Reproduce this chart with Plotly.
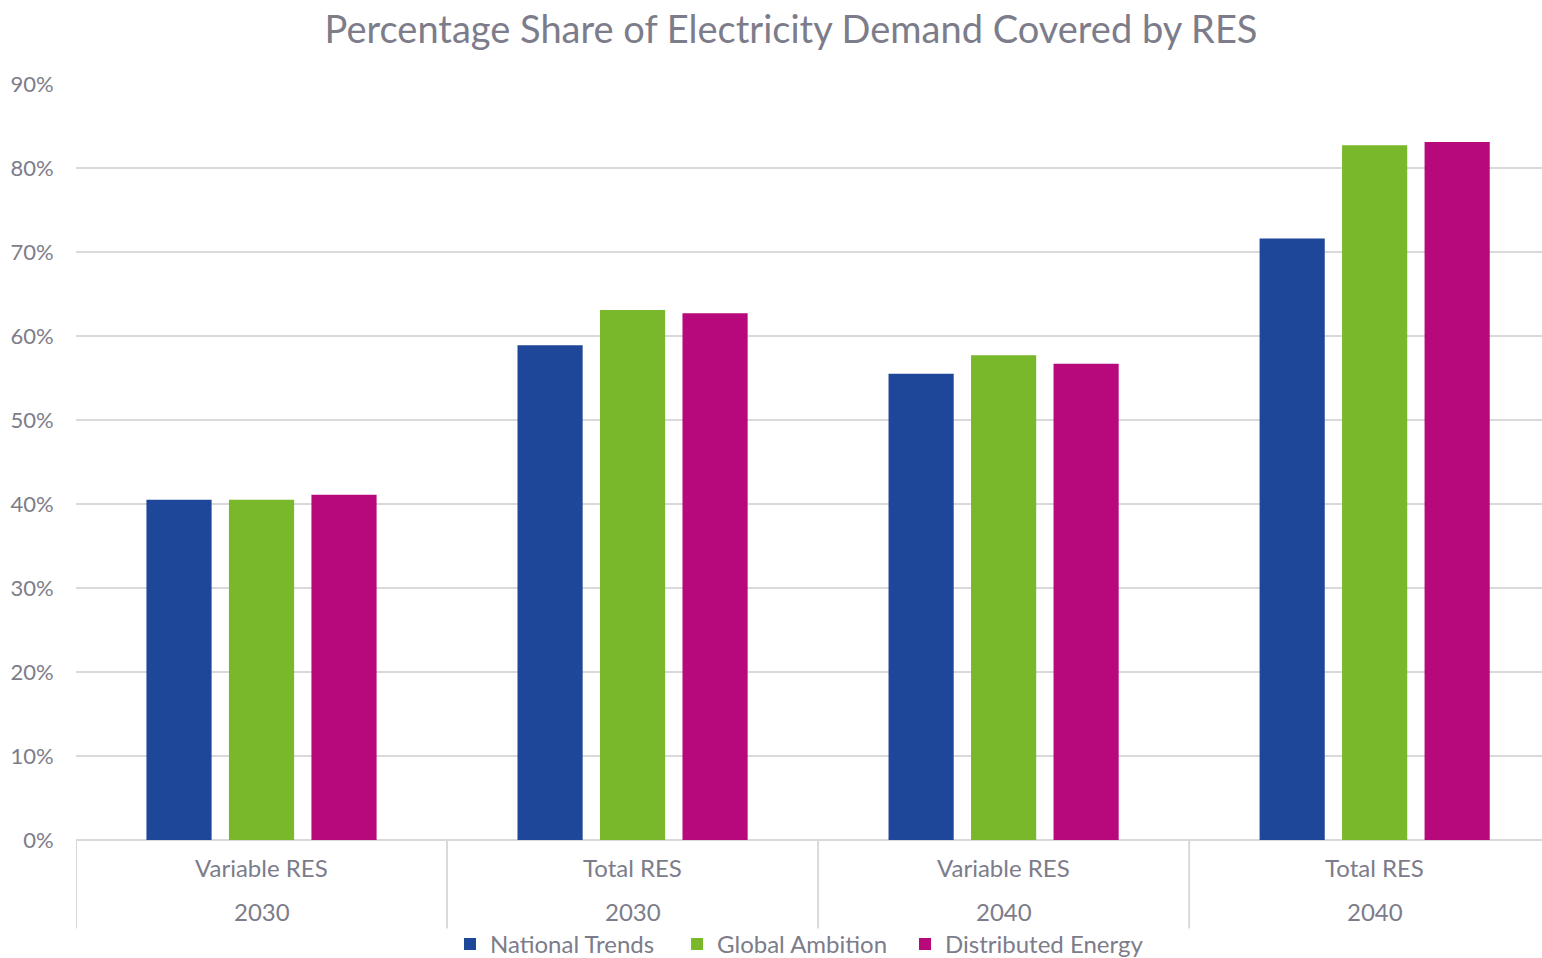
import plotly.graph_objects as go

# Scenario data: share of electricity demand covered by renewables
categories = ["Variable RES", "Total RES", "Variable RES", "Total RES"]
years = ["2030", "2030", "2040", "2040"]
national_trends = [0.405, 0.589, 0.555, 0.716]
global_ambition = [0.405, 0.631, 0.577, 0.827]
distributed_energy = [0.411, 0.627, 0.567, 0.831]
y_ticks = [0, 0.1, 0.2, 0.3, 0.4, 0.5, 0.6, 0.7, 0.8, 0.9]

FONT = "Lato"
TEXT = "#7c7c8a"
GRID = "#d9d9d9"

x_pos = list(range(len(categories)))

series = [
    ("National Trends", national_trends, "#1f4799", "legend", 0.2551),
    ("Global Ambition", global_ambition, "#78b82a", "legend2", 0.410),
    ("Distributed Energy", distributed_energy, "#b8097c", "legend3", 0.5655),
]

fig = go.Figure()
legend_layout = {}
for name, vals, color, leg, lx in series:
    fig.add_trace(go.Bar(
        x=x_pos, y=vals, name=name, legend=leg,
        marker=dict(color=color, line=dict(width=0)),
    ))
    legend_layout[leg] = dict(
        orientation="h", x=lx, xanchor="left", y=-0.138, yanchor="middle",
        font=dict(family=FONT, size=24, color=TEXT),
        itemwidth=30, bgcolor="rgba(0,0,0,0)",
    )

# Category labels (two rows) and dividers below the axis
annotations = []
for i, (c, yr) in enumerate(zip(categories, years)):
    annotations.append(dict(x=i, y=-0.036, xref="x", yref="paper", text=c,
                            showarrow=False, font=dict(family=FONT, size=24, color=TEXT),
                            xanchor="center", yanchor="middle"))
    annotations.append(dict(x=i, y=-0.094, xref="x", yref="paper", text=yr,
                            showarrow=False, font=dict(family=FONT, size=24, color=TEXT),
                            xanchor="center", yanchor="middle"))

shapes = []
for b in [-0.5, 0.5, 1.5, 2.5]:
    shapes.append(dict(type="line", xref="x", yref="paper", x0=b, x1=b,
                       y0=0, y1=-0.117, line=dict(color=GRID, width=2)))

fig.update_layout(
    width=1542, height=958,
    margin=dict(l=76, r=0, t=84, b=118, autoexpand=False),
    paper_bgcolor="white", plot_bgcolor="white",
    title=dict(text="Percentage Share of Electricity Demand Covered by RES",
               x=0.513, xanchor="center", y=0.969, yanchor="middle",
               font=dict(family=FONT, size=38, color=TEXT)),
    barmode="group", bargap=0.333, bargroupgap=0.21,
    showlegend=True,
    annotations=annotations,
    shapes=shapes,
    xaxis=dict(range=[-0.5, 3.451], showticklabels=False, showgrid=False,
               zeroline=False, showline=False, ticks=""),
    yaxis=dict(range=[0, 0.9], tickvals=y_ticks, tickformat=".0%",
               showgrid=True, gridcolor=GRID, gridwidth=2,
               zeroline=True, zerolinecolor=GRID, zerolinewidth=2,
               ticks="outside", ticklen=17, tickcolor="rgba(0,0,0,0)",
               tickfont=dict(family=FONT, size=22, color=TEXT)),
    **legend_layout,
)

fig.write_html("out.html")
